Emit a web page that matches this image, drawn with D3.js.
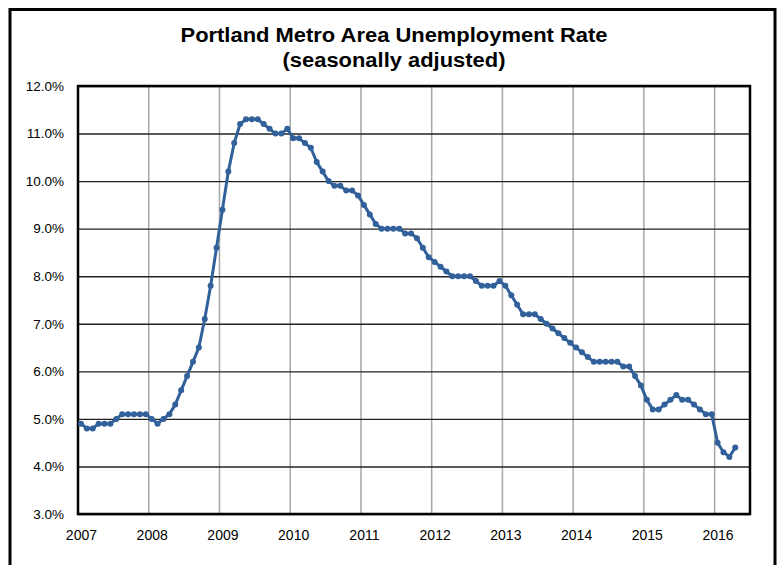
<!DOCTYPE html>
<html>
<head>
<meta charset="utf-8">
<script src="https://cdn.jsdelivr.net/npm/d3@7"></script>
<style>
  html, body { margin: 0; padding: 0; background: #fff; }
  svg { display: block; }
  text { font-family: "Liberation Sans", Arial, sans-serif; fill: #000; }
</style>
</head>
<body>
<svg id="chart" width="780" height="565"></svg>
<script>
// ---- data ----
const titleLines = ["Portland Metro Area Unemployment Rate", "(seasonally adjusted)"];
const yearLabels = ["2007","2008","2009","2010","2011","2012","2013","2014","2015","2016"];
const yTicks = [3,4,5,6,7,8,9,10,11,12];
// monthly unemployment rate (%), Jan 2007 .. Apr 2016
const rate2007 = [4.9,4.8,4.8,4.9,4.9,4.9,5.0,5.1,5.1,5.1,5.1,5.1];
const rate2008 = [5.0,4.9,5.0,5.1,5.3,5.6,5.9,6.2,6.5,7.1,7.8,8.6];
const rate2009 = [9.4,10.2,10.8,11.2,11.3,11.3,11.3,11.2,11.1,11.0,11.0,11.1];
const rate2010 = [10.9,10.9,10.8,10.7,10.4,10.2,10.0,9.9,9.9,9.8,9.8,9.7];
const rate2011 = [9.5,9.3,9.1,9.0,9.0,9.0,9.0,8.9,8.9,8.8,8.6,8.4];
const rate2012 = [8.3,8.2,8.1,8.0,8.0,8.0,8.0,7.9,7.8,7.8,7.8,7.9];
const rate2013 = [7.8,7.6,7.4,7.2,7.2,7.2,7.1,7.0,6.9,6.8,6.7,6.6];
const rate2014 = [6.5,6.4,6.3,6.2,6.2,6.2,6.2,6.2,6.1,6.1,5.9,5.7];
const rate2015 = [5.4,5.2,5.2,5.3,5.4,5.5,5.4,5.4,5.3,5.2,5.1,5.1];
const rate2016 = [4.5,4.3,4.2,4.4];
const monthsOnAxis = 114; // Jan 2007 .. Jun 2016 category slots

const rates = [].concat(rate2007, rate2008, rate2009, rate2010, rate2011,
                        rate2012, rate2013, rate2014, rate2015, rate2016);

// ---- layout ----
const svg = d3.select("#chart");
const L = 78, R = 750, T = 86, B = 514;

const x = d3.scaleLinear().domain([0, monthsOnAxis]).range([L, R]);
const y = d3.scaleLinear().domain([3, 12]).range([B, T]);

// outer frame
svg.append("rect").attr("x", 10).attr("y", 9.5).attr("width", 765).attr("height", 600)
  .attr("fill", "#fff").attr("stroke", "#000").attr("stroke-width", 3);

// title
const titleSizes = [{y: 42, w: 427}, {y: 67, w: 223}];
svg.selectAll("text.title").data(titleLines).join("text")
  .attr("class", "title")
  .attr("x", 394).attr("y", (d, i) => titleSizes[i].y)
  .attr("text-anchor", "middle")
  .attr("font-size", 19.5).attr("font-weight", "bold")
  .attr("textLength", (d, i) => titleSizes[i].w)
  .attr("lengthAdjust", "spacingAndGlyphs")
  .text(d => d);

// vertical gridlines at year boundaries
const yearIdx = yearLabels.map((d, i) => i * 12);
svg.append("g").selectAll("line").data(yearIdx.slice(1)).join("line")
  .attr("x1", d => x(d)).attr("x2", d => x(d))
  .attr("y1", T).attr("y2", B)
  .attr("stroke", "#a6a6a6").attr("stroke-width", 1.5);

// horizontal gridlines
const yAxis = d3.axisLeft(y).tickValues(yTicks).tickSize(-(R - L)).tickPadding(14)
  .tickFormat(d => d3.format(".1f")(d) + "%");
const gy = svg.append("g").attr("transform", `translate(${L},0)`).call(yAxis);
gy.select(".domain").remove();
gy.selectAll(".tick line").attr("stroke", "#222").attr("stroke-width", 1.4);
gy.selectAll(".tick text").attr("font-size", 13.5).attr("font-family", "Liberation Sans, Arial, sans-serif")
  .attr("fill", "#000");

// x axis labels (at the January slot of each year)
const xAxis = d3.axisBottom(x).tickValues(yearIdx.map(d => d + 0.5))
  .tickSize(0).tickPadding(16).tickFormat((d, i) => yearLabels[i]);
const gx = svg.append("g").attr("transform", `translate(0,${B})`).call(xAxis);
gx.select(".domain").remove();
gx.selectAll(".tick text").attr("font-size", 14).attr("font-family", "Liberation Sans, Arial, sans-serif")
  .attr("fill", "#000");

// plot border
svg.append("rect").attr("x", L).attr("y", T).attr("width", R - L).attr("height", B - T)
  .attr("fill", "none").attr("stroke", "#000").attr("stroke-width", 2.5);

// line + markers
const color = "#31609a";
const line = d3.line().x((d, i) => x(i + 0.5)).y(d => y(d));
svg.append("path").datum(rates).attr("d", line)
  .attr("fill", "none").attr("stroke", color).attr("stroke-width", 3)
  .attr("stroke-linejoin", "round");
svg.append("g").selectAll("circle").data(rates).join("circle")
  .attr("cx", (d, i) => x(i + 0.5)).attr("cy", d => y(d)).attr("r", 3)
  .attr("fill", color);
</script>
</body>
</html>
